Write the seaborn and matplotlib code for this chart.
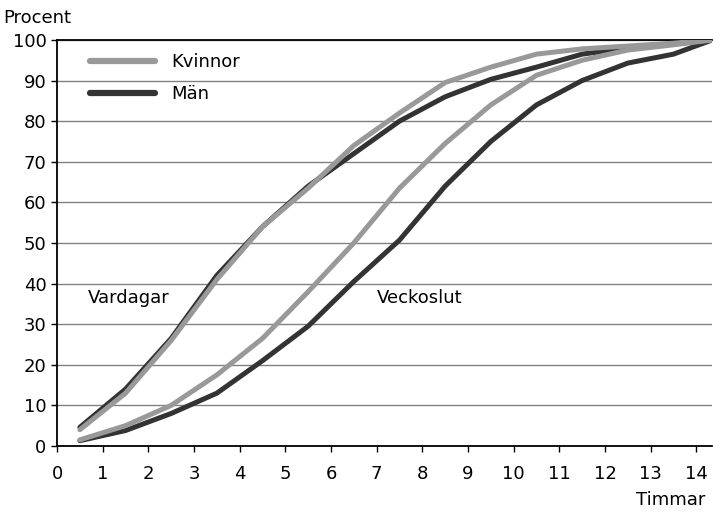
import numpy as np
import pandas as pd
import seaborn as sns
import matplotlib.pyplot as plt

# Kumulativ andel (%) efter antal timmar
timmar = [0.5, 1.5, 2.5, 3.5, 4.5, 5.5, 6.5, 7.5, 8.5, 9.5, 10.5, 11.5, 12.5, 13.5, 14.35]
vardagar_kvinnor = [4, 13, 26, 41, 54, 63.5, 74, 82, 89.5, 93.3, 96.5, 97.8, 98.5, 99.2, 100]
vardagar_man = [4.6, 14, 26.5, 42, 54, 64, 72, 80, 86, 90.3, 93.3, 96.5, 98, 99, 100]
veckoslut_kvinnor = [1.5, 5, 10, 17.5, 26.5, 38, 50, 63.5, 74.5, 84, 91.3, 95, 97.5, 98.8, 100]
veckoslut_man = [1.3, 3.8, 8, 13, 21, 29.5, 40.5, 50.7, 64, 75, 84, 90, 94.3, 96.5, 100]

KON = ["Män", "Kvinnor"]
FARGER = {"Kvinnor": "#999999", "Män": "#333333"}

rows = []
for period, kv, ma in [("Vardagar", vardagar_kvinnor, vardagar_man),
                       ("Veckoslut", veckoslut_kvinnor, veckoslut_man)]:
    for x, yk, ym in zip(timmar, kv, ma):
        rows.append({"Timmar": x, "Procent": ym, "Kön": "Män", "Period": period})
        rows.append({"Timmar": x, "Procent": yk, "Kön": "Kvinnor", "Period": period})
df = pd.DataFrame(rows)

sns.set_style("white")
plt.rcParams["font.family"] = ["DejaVu Sans"]
plt.rcParams["text.color"] = "black"
FS = 13

fig = plt.figure(figsize=(7.13, 5.12), dpi=100)
ax = fig.add_axes([0.080, 0.129, 0.919, 0.793])

# Män först så att Kvinnor hamnar ovanpå
for kon in KON:
    sub = df[df["Kön"] == kon]
    sns.lineplot(data=sub, x="Timmar", y="Procent", units="Period", estimator=None,
                 color=FARGER[kon], linewidth=3.6, ax=ax, legend=False, zorder=3)

ax.set_xlim(0, 14.35)
ax.set_ylim(0, 100)
ax.set_xticks(range(0, 15))
ax.set_yticks(range(0, 101, 10))
ax.yaxis.grid(True, color="#808080", linewidth=1)
ax.xaxis.grid(False)
ax.set_xlabel("")
ax.set_ylabel("")

for side in ["left", "bottom", "top"]:
    ax.spines[side].set_visible(True)
    ax.spines[side].set_color("black")
    ax.spines[side].set_linewidth(1.3)
ax.spines["right"].set_visible(False)

ax.tick_params(axis="both", which="both", direction="out", length=4.5, width=1,
               color="black", labelsize=FS, labelcolor="black")
ax.tick_params(axis="x", pad=9, bottom=True)
ax.tick_params(axis="y", pad=3, left=True)

fig.text(0.004, 0.965, "Procent", fontsize=FS, ha="left", va="center", color="black")
fig.text(0.99, 0.024, "Timmar", fontsize=FS, ha="right", va="center", color="black")
ax.text(0.68, 36.5, "Vardagar", fontsize=FS, ha="left", va="center", color="black")
ax.text(7.0, 36.5, "Veckoslut", fontsize=FS, ha="left", va="center", color="black")

handles = [plt.Line2D([], [], color=FARGER["Kvinnor"], linewidth=4.5),
           plt.Line2D([], [], color=FARGER["Män"], linewidth=4.5)]
leg = ax.legend(handles, ["Kvinnor", "Män"], loc="upper left", bbox_to_anchor=(0.050, 0.968),
                frameon=False, fontsize=FS, handlelength=3.6, handletextpad=0.9,
                labelspacing=0.8, borderpad=0, borderaxespad=0)
for t in leg.get_texts():
    t.set_color("black")

fig.savefig("out.png", dpi=100)
